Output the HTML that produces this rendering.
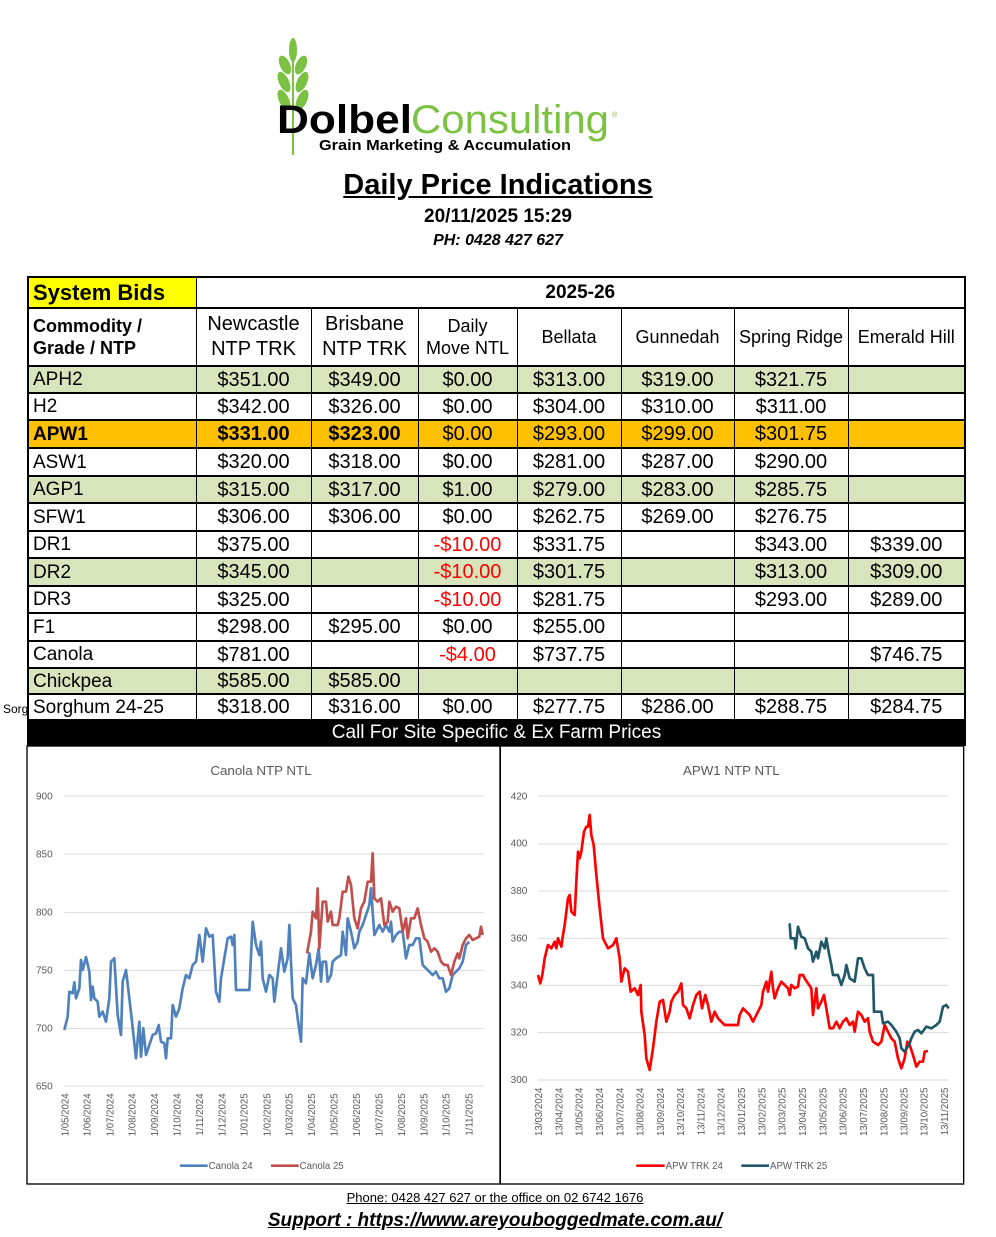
<!DOCTYPE html>
<html><head><meta charset="utf-8"><style>
body{margin:0;background:#fff;width:996px;height:1237px;position:relative;font-family:"Liberation Sans",sans-serif;overflow:hidden}
.abs{position:absolute}
table{position:absolute;left:27px;top:276px;border-collapse:collapse;table-layout:fixed;width:937px}
td{border:1px solid #000;border-bottom:2px solid #000;padding:0;font-size:20px;text-align:center;white-space:nowrap;overflow:hidden;line-height:1}
td.l{text-align:left;padding-left:4px;font-size:19px}
tr.g td{background:#d8e4bc}
tr.o td{background:#ffc000;font-weight:bold}
tr.o td.n{font-weight:normal}
.r{color:#f00}
table{border:2px solid #000}
</style></head><body>
<!-- logo -->
<svg class="abs" style="left:265px;top:30px" width="370" height="130" viewBox="0 0 370 130">
 <g fill="#7cc242">
  <ellipse cx="28" cy="20" rx="4" ry="12"/>
  <ellipse cx="20" cy="35" rx="5" ry="10" transform="rotate(-25 20 35)"/>
  <ellipse cx="36" cy="35" rx="5" ry="10" transform="rotate(25 36 35)"/>
  <ellipse cx="19" cy="52" rx="5" ry="11" transform="rotate(-25 19 52)"/>
  <ellipse cx="37" cy="52" rx="5" ry="11" transform="rotate(25 37 52)"/>
  <ellipse cx="19" cy="70" rx="5" ry="11" transform="rotate(-25 19 70)"/>
  <ellipse cx="37" cy="70" rx="5" ry="11" transform="rotate(25 37 70)"/>
  <rect x="27" y="20" width="2" height="105"/>
 </g>
 <text x="12" y="103" font-family="Liberation Sans" font-weight="bold" font-size="40" fill="#000" textLength="135" lengthAdjust="spacingAndGlyphs">Dolbel</text>
 <text x="146" y="103" font-family="Liberation Sans" font-size="40" fill="#7cc242" textLength="198" lengthAdjust="spacingAndGlyphs">Consulting</text>
 <text x="347" y="87" font-size="7" fill="#7cc242">®</text>
 <text x="54" y="120" font-family="Liberation Sans" font-weight="bold" font-size="15" fill="#000" textLength="252" lengthAdjust="spacingAndGlyphs">Grain Marketing &amp; Accumulation</text>
</svg>
<div class="abs" style="left:0;width:996px;top:169px;text-align:center;font-weight:bold;font-size:29px;text-decoration:underline">Daily Price Indications</div>
<div class="abs" style="left:0;width:996px;top:206px;text-align:center;font-weight:bold;font-size:19px">20/11/2025 15:29</div>
<div class="abs" style="left:0;width:996px;top:232px;text-align:center;font-weight:bold;font-style:italic;font-size:16px">PH: 0428 427 627</div>
<div class="abs" style="left:3px;top:702px;font-size:12px">Sorg</div>
<table>
<colgroup><col style="width:168px"><col style="width:115px"><col style="width:107px"><col style="width:99px"><col style="width:104px"><col style="width:113px"><col style="width:114px"><col style="width:117px"></colgroup>
<tr style="height:31px"><td class="l" style="background:#ff0;font-weight:bold;font-size:22px">System Bids</td><td colspan="7" style="font-weight:bold;font-size:19px">2025-26</td></tr>
<tr style="height:58px"><td class="l" style="font-weight:bold;font-size:18px;white-space:normal;line-height:1.25">Commodity /<br>Grade / NTP</td><td style="line-height:1.25">Newcastle<br>NTP TRK</td><td style="line-height:1.25">Brisbane<br>NTP TRK</td><td style="line-height:1.25;font-size:18px">Daily<br>Move NTL</td><td style="font-size:18px">Bellata</td><td style="font-size:18px">Gunnedah</td><td style="font-size:18px">Spring Ridge</td><td style="font-size:18px">Emerald Hill</td></tr>
<tr class="g" style="height:27px"><td class="l">APH2</td><td>$351.00</td><td>$349.00</td><td>$0.00</td><td>$313.00</td><td>$319.00</td><td>$321.75</td><td></td></tr>
<tr style="height:27px"><td class="l">H2</td><td>$342.00</td><td>$326.00</td><td>$0.00</td><td>$304.00</td><td>$310.00</td><td>$311.00</td><td></td></tr>
<tr class="o" style="height:28px"><td class="l">APW1</td><td>$331.00</td><td>$323.00</td><td class="n">$0.00</td><td class="n">$293.00</td><td class="n">$299.00</td><td class="n">$301.75</td><td></td></tr>
<tr style="height:28px"><td class="l">ASW1</td><td>$320.00</td><td>$318.00</td><td>$0.00</td><td>$281.00</td><td>$287.00</td><td>$290.00</td><td></td></tr>
<tr class="g" style="height:27px"><td class="l">AGP1</td><td>$315.00</td><td>$317.00</td><td>$1.00</td><td>$279.00</td><td>$283.00</td><td>$285.75</td><td></td></tr>
<tr style="height:28px"><td class="l">SFW1</td><td>$306.00</td><td>$306.00</td><td>$0.00</td><td>$262.75</td><td>$269.00</td><td>$276.75</td><td></td></tr>
<tr style="height:27px"><td class="l">DR1</td><td>$375.00</td><td></td><td class="r">-$10.00</td><td>$331.75</td><td></td><td>$343.00</td><td>$339.00</td></tr>
<tr class="g" style="height:28px"><td class="l">DR2</td><td>$345.00</td><td></td><td class="r">-$10.00</td><td>$301.75</td><td></td><td>$313.00</td><td>$309.00</td></tr>
<tr style="height:27px"><td class="l">DR3</td><td>$325.00</td><td></td><td class="r">-$10.00</td><td>$281.75</td><td></td><td>$293.00</td><td>$289.00</td></tr>
<tr style="height:28px"><td class="l">F1</td><td>$298.00</td><td>$295.00</td><td>$0.00</td><td>$255.00</td><td></td><td></td><td></td></tr>
<tr style="height:27px"><td class="l">Canola</td><td>$781.00</td><td></td><td class="r">-$4.00</td><td>$737.75</td><td></td><td></td><td>$746.75</td></tr>
<tr class="g" style="height:26px"><td class="l">Chickpea</td><td>$585.00</td><td>$585.00</td><td></td><td></td><td></td><td></td><td></td></tr>
<tr style="height:26px"><td class="l">Sorghum 24-25</td><td>$318.00</td><td>$316.00</td><td>$0.00</td><td>$277.75</td><td>$286.00</td><td>$288.75</td><td>$284.75</td></tr>
<tr style="height:25px"><td colspan="8" style="background:#000;color:#fff;font-size:19px">Call For Site Specific &amp; Ex Farm Prices</td></tr>
</table>

<!-- Canola chart -->
<svg class="abs" style="left:26px;top:745px" width="475" height="440" viewBox="0 0 1425 1320">
 <rect x="3" y="3" width="1419" height="1314" fill="#fff" stroke="#000" stroke-width="4"/>
 <text x="705" y="90" text-anchor="middle" font-family="Liberation Sans" font-size="40" fill="#595959">Canola NTP NTL</text>
 <g stroke="#d9d9d9" stroke-width="3">
  <line x1="115" y1="153" x2="1373" y2="153"/><line x1="115" y1="327" x2="1373" y2="327"/><line x1="115" y1="502" x2="1373" y2="502"/><line x1="115" y1="676" x2="1373" y2="676"/><line x1="115" y1="850" x2="1373" y2="850"/><line x1="115" y1="1023" x2="1373" y2="1023"/>
 </g>
 <g font-family="Liberation Sans" font-size="30" fill="#595959" text-anchor="end">
  <text x="80" y="163">900</text><text x="80" y="337">850</text><text x="80" y="512">800</text><text x="80" y="686">750</text><text x="80" y="860">700</text><text x="80" y="1033">650</text>
 </g>
 <g font-family="Liberation Sans" font-size="29" fill="#595959" text-anchor="end">
  <text transform="translate(127,1045) rotate(-90)">1/05/2024</text>
  <text transform="translate(194,1045) rotate(-90)">1/06/2024</text>
  <text transform="translate(262,1045) rotate(-90)">1/07/2024</text>
  <text transform="translate(329,1045) rotate(-90)">1/08/2024</text>
  <text transform="translate(396,1045) rotate(-90)">1/09/2024</text>
  <text transform="translate(464,1045) rotate(-90)">1/10/2024</text>
  <text transform="translate(531,1045) rotate(-90)">1/11/2024</text>
  <text transform="translate(598,1045) rotate(-90)">1/12/2024</text>
  <text transform="translate(665,1045) rotate(-90)">1/01/2025</text>
  <text transform="translate(733,1045) rotate(-90)">1/02/2025</text>
  <text transform="translate(800,1045) rotate(-90)">1/03/2025</text>
  <text transform="translate(867,1045) rotate(-90)">1/04/2025</text>
  <text transform="translate(935,1045) rotate(-90)">1/05/2025</text>
  <text transform="translate(1002,1045) rotate(-90)">1/06/2025</text>
  <text transform="translate(1069,1045) rotate(-90)">1/07/2025</text>
  <text transform="translate(1137,1045) rotate(-90)">1/08/2025</text>
  <text transform="translate(1204,1045) rotate(-90)">1/09/2025</text>
  <text transform="translate(1271,1045) rotate(-90)">1/10/2025</text>
  <text transform="translate(1339,1045) rotate(-90)">1/11/2025</text>
 </g>
 <polyline fill="none" stroke="#4f81bd" stroke-width="8" stroke-linejoin="round" points="115,855 125,815 130,740 140,745 145,712 150,760 160,730 165,645 170,675 180,636 190,680 195,765 200,725 205,760 215,770 220,815 230,800 240,830 250,760 255,650 265,640 275,810 285,870 290,710 300,675 310,760 318,830 330,940 340,830 345,935 352,850 360,930 370,900 380,870 390,865 398,840 405,890 415,895 420,940 425,880 435,880 440,780 450,815 460,790 470,730 480,690 490,700 500,660 510,650 520,570 530,650 540,550 550,575 560,570 570,740 580,770 585,700 595,640 605,580 615,575 620,600 625,570 630,735 640,735 670,735 680,530 690,600 700,630 705,590 710,700 720,740 730,690 740,700 745,770 755,690 765,610 775,680 785,640 790,540 800,760 810,780 815,820 825,890 830,700 840,715 850,625 860,700 870,660 878,610 885,710 890,650 900,650 905,710 915,690 920,650 930,640 945,630 950,560 960,630 965,520 975,560 985,610 995,590 1000,560 1010,540 1020,510 1030,480 1035,430 1045,570 1060,540 1070,560 1080,540 1090,560 1095,530 1100,590 1110,570 1120,560 1130,560 1140,640 1150,600 1160,600 1170,580 1180,580 1190,660 1200,670 1210,680 1220,690 1230,680 1240,700 1250,700 1260,740 1270,730 1280,690 1290,680 1300,670 1310,650 1320,600 1330,590"/>
 <polyline fill="none" stroke="#c0504d" stroke-width="8" stroke-linejoin="round" points="843,625 855,560 860,500 870,520 875,430 880,610 890,470 900,470 905,530 915,500 920,540 935,540 940,520 950,440 960,440 967,395 975,420 985,520 995,550 1005,490 1015,470 1025,410 1035,410 1040,325 1045,460 1055,470 1065,460 1075,540 1085,530 1090,470 1100,500 1110,485 1120,490 1130,560 1140,520 1145,580 1155,520 1165,520 1175,490 1185,540 1195,580 1205,590 1215,620 1225,610 1235,620 1245,650 1255,660 1265,660 1275,690 1285,650 1295,625 1300,640 1310,600 1320,580 1330,570 1340,585 1350,580 1360,575 1365,545 1370,570"/>
 <line x1="462" y1="1262" x2="545" y2="1262" stroke="#4f81bd" stroke-width="8"/>
 <text x="548" y="1272" font-family="Liberation Sans" font-size="29" fill="#595959">Canola 24</text>
 <line x1="735" y1="1262" x2="818" y2="1262" stroke="#c0504d" stroke-width="8"/>
 <text x="821" y="1272" font-family="Liberation Sans" font-size="29" fill="#595959">Canola 25</text>
</svg>

<!-- APW chart -->
<svg class="abs" style="left:498px;top:745px" width="470" height="440" viewBox="0 0 1410 1320">
 <rect x="7" y="3" width="1390" height="1314" fill="#fff" stroke="#000" stroke-width="4"/>
 <text x="700" y="90" text-anchor="middle" font-family="Liberation Sans" font-size="40" fill="#595959">APW1 NTP NTL</text>
 <g stroke="#d9d9d9" stroke-width="3">
  <line x1="120" y1="153" x2="1352" y2="153"/><line x1="120" y1="297" x2="1352" y2="297"/><line x1="120" y1="438" x2="1352" y2="438"/><line x1="120" y1="580" x2="1352" y2="580"/><line x1="120" y1="721" x2="1352" y2="721"/><line x1="120" y1="863" x2="1352" y2="863"/><line x1="120" y1="1005" x2="1352" y2="1005"/>
 </g>
 <g font-family="Liberation Sans" font-size="30" fill="#595959" text-anchor="end">
  <text x="88" y="163">420</text><text x="88" y="305">400</text><text x="88" y="447">380</text><text x="88" y="589">360</text><text x="88" y="730">340</text><text x="88" y="872">320</text><text x="88" y="1014">300</text>
 </g>
 <g font-family="Liberation Sans" font-size="29" fill="#595959" text-anchor="end">
  <text transform="translate(132,1028) rotate(-90)">13/03/2024</text>
  <text transform="translate(193,1028) rotate(-90)">13/04/2024</text>
  <text transform="translate(254,1028) rotate(-90)">13/05/2024</text>
  <text transform="translate(315,1028) rotate(-90)">13/06/2024</text>
  <text transform="translate(376,1028) rotate(-90)">13/07/2024</text>
  <text transform="translate(437,1028) rotate(-90)">13/08/2024</text>
  <text transform="translate(498,1028) rotate(-90)">13/09/2024</text>
  <text transform="translate(558,1028) rotate(-90)">13/10/2024</text>
  <text transform="translate(619,1028) rotate(-90)">13/11/2024</text>
  <text transform="translate(680,1028) rotate(-90)">13/12/2024</text>
  <text transform="translate(741,1028) rotate(-90)">13/01/2025</text>
  <text transform="translate(802,1028) rotate(-90)">13/02/2025</text>
  <text transform="translate(863,1028) rotate(-90)">13/03/2025</text>
  <text transform="translate(924,1028) rotate(-90)">13/04/2025</text>
  <text transform="translate(985,1028) rotate(-90)">13/05/2025</text>
  <text transform="translate(1046,1028) rotate(-90)">13/06/2025</text>
  <text transform="translate(1107,1028) rotate(-90)">13/07/2025</text>
  <text transform="translate(1168,1028) rotate(-90)">13/08/2025</text>
  <text transform="translate(1228,1028) rotate(-90)">13/09/2025</text>
  <text transform="translate(1289,1028) rotate(-90)">13/10/2025</text>
  <text transform="translate(1350,1028) rotate(-90)">13/11/2025</text>
 </g>
 <polyline fill="none" stroke="#ff0000" stroke-width="8" stroke-linejoin="round" points="120,690 127,715 133,690 140,640 150,600 160,610 170,590 175,610 180,580 190,605 195,570 200,540 210,460 215,450 220,500 230,510 235,410 240,320 245,340 250,320 258,260 265,245 270,245 275,210 280,270 287,300 295,390 305,490 315,580 330,610 345,600 355,580 365,640 370,710 380,670 390,680 398,740 410,730 420,750 428,720 430,800 440,870 445,940 455,975 465,910 475,830 485,770 495,765 505,830 515,800 520,770 530,750 540,740 550,715 555,780 565,790 575,820 585,780 595,750 605,740 612,790 622,750 630,780 640,830 650,800 660,820 670,830 680,840 720,840 725,810 735,790 745,800 755,810 765,830 780,800 790,780 795,740 805,710 810,740 820,680 825,730 830,760 840,730 850,710 860,720 870,730 875,750 880,720 890,730 900,725 905,690 915,690 920,700 930,715 940,730 945,810 955,730 960,790 970,770 978,750 985,790 995,850 1005,850 1015,830 1025,850 1035,830 1045,820 1055,840 1065,830 1070,860 1080,800 1090,810 1100,830 1110,820 1115,860 1125,890 1140,900 1150,890 1160,840 1170,860 1180,880 1190,890 1200,940 1210,970 1220,940 1228,890 1235,900 1245,930 1255,965 1265,950 1275,950 1280,920 1290,918"/>
 <polyline fill="none" stroke="#215867" stroke-width="8" stroke-linejoin="round" points="875,535 878,580 890,580 893,610 900,545 910,575 920,580 930,610 940,620 945,650 955,620 960,640 970,590 980,610 985,580 990,610 1000,660 1005,690 1020,690 1030,720 1040,690 1045,660 1055,700 1070,710 1080,640 1090,640 1100,670 1110,690 1125,690 1128,800 1140,800 1150,800 1155,835 1170,830 1180,840 1195,860 1205,880 1210,910 1220,920 1235,895 1240,880 1250,860 1260,855 1270,865 1285,845 1300,850 1315,840 1325,830 1335,785 1345,780 1352,790"/>
 <line x1="415" y1="1262" x2="500" y2="1262" stroke="#ff0000" stroke-width="8"/>
 <text x="503" y="1272" font-family="Liberation Sans" font-size="29" fill="#595959">APW TRK 24</text>
 <line x1="730" y1="1262" x2="813" y2="1262" stroke="#215867" stroke-width="8"/>
 <text x="816" y="1272" font-family="Liberation Sans" font-size="29" fill="#595959">APW TRK 25</text>
</svg>

<div class="abs" style="left:0;width:990px;top:1190px;text-align:center;font-size:13px;text-decoration:underline">Phone: 0428 427 627 or the office on 02 6742 1676</div>
<div class="abs" style="left:0;width:990px;top:1210px;text-align:center;font-size:19px;font-weight:bold;font-style:italic;text-decoration:underline">Support : https://www.areyouboggedmate.com.au/</div>
</body></html>
